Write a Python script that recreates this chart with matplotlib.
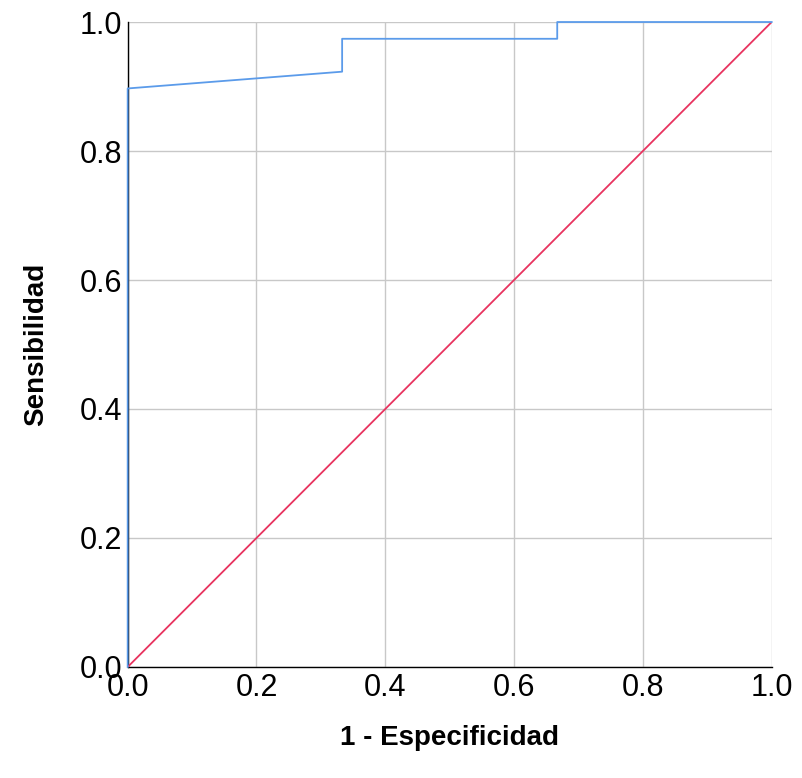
import matplotlib
matplotlib.use("Agg")
import matplotlib.pyplot as plt

# curva ROC
fpr = [0.0, 0.0, 0.333, 0.333, 0.667, 0.667, 1.0]
tpr = [0.0, 0.897, 0.923, 0.974, 0.974, 1.0, 1.0]
ref_x = [0.0, 1.0]
ref_y = [0.0, 1.0]
ticks = [0.0, 0.2, 0.4, 0.6, 0.8, 1.0]

plt.rcParams['font.family'] = ['Liberation Sans', 'DejaVu Sans']

fig = plt.figure(figsize=(8.03, 7.78), dpi=100)
ax = fig.add_axes([0.159, 0.1427, 0.802, 0.829])

ax.plot(ref_x, ref_y, color='#e8335f', lw=1.3, zorder=3)
ax.plot(fpr, tpr, color='#5b9bea', lw=1.3, zorder=4, clip_on=False)

ax.set_xlim(0, 1)
ax.set_ylim(0, 1)
ax.set_xticks(ticks)
ax.set_yticks(ticks)
ax.set_xticklabels([f'{t:.1f}' for t in ticks], fontsize=22)
ax.set_yticklabels([f'{t:.1f}' for t in ticks], fontsize=22)
ax.tick_params(axis='x', length=0, pad=4)
ax.tick_params(axis='y', length=0, pad=4)
ax.grid(True, color='#c8c8c8', lw=1)
ax.set_axisbelow(True)
for s in ['top', 'right']:
    ax.spines[s].set_visible(False)
for s in ['left', 'bottom']:
    ax.spines[s].set_color('black')
    ax.spines[s].set_linewidth(1)

ax.set_xlabel('1 - Especificidad', fontsize=20, fontweight='bold', labelpad=16)
ax.set_ylabel('Sensibilidad', fontsize=20, fontweight='bold', labelpad=22)

fig.savefig('out.png', dpi=100, facecolor='white')
